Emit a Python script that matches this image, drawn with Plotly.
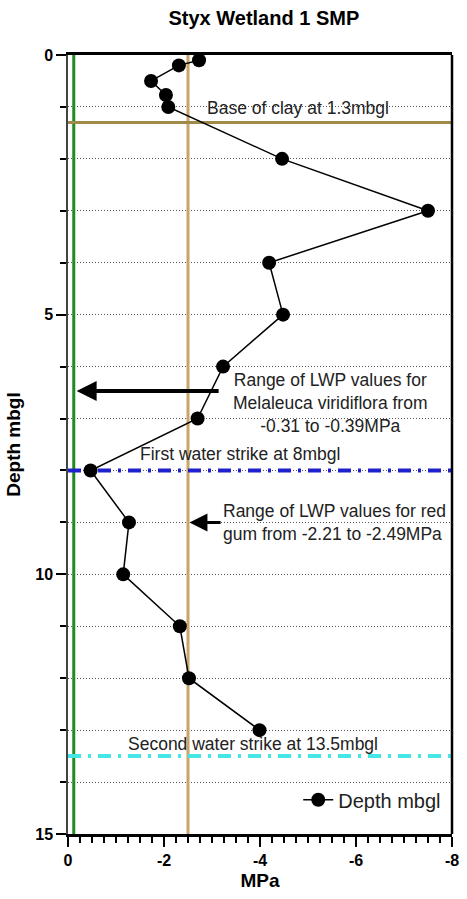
import plotly.graph_objects as go

# ---- data ----
mpa = [-2.73, -2.31, -1.73, -2.04, -2.09, -4.46, -7.5, -4.19, -4.48,
       -3.23, -2.70, -0.47, -1.27, -1.15, -2.33, -2.52, -3.99]
depth = [0.1, 0.2, 0.5, 0.77, 1.0, 2.0, 3.0, 4.0, 5.0,
         6.0, 7.0, 8.0, 9.0, 10.0, 11.0, 12.0, 13.0]

melaleuca_line_x = -0.12
redgum_line_x = -2.5
clay_depth = 1.3
first_strike_depth = 8.0
second_strike_depth = 13.5

x_range = [0, -8]
y_range = [15, 0]
x_ticks = [0, -2, -4, -6, -8]
x_ticklabels = ["0", "-2", "-4", "-6", "-8"]
y_ticks = [0, 5, 10, 15]
y_ticklabels = ["0", "5", "10", "15"]

FONT = "Liberation Sans, Arial, sans-serif"
TXT = "#222222"
DASHDOT = "13px,7px,3px,7px"

fig = go.Figure()

# vertical reference lines (full depth)
fig.add_trace(go.Scatter(x=[melaleuca_line_x, melaleuca_line_x], y=y_range,
                         mode="lines", line=dict(color="#1f8a24", width=3),
                         showlegend=False, hoverinfo="skip"))
fig.add_trace(go.Scatter(x=[redgum_line_x, redgum_line_x], y=y_range,
                         mode="lines", line=dict(color="#c9a46c", width=3),
                         showlegend=False, hoverinfo="skip"))
# horizontal lines
fig.add_trace(go.Scatter(x=x_range, y=[clay_depth, clay_depth],
                         mode="lines", line=dict(color="#a08a4a", width=3),
                         showlegend=False, hoverinfo="skip"))
fig.add_trace(go.Scatter(x=x_range, y=[first_strike_depth, first_strike_depth],
                         mode="lines", line=dict(color="#1f22cc", width=4, dash=DASHDOT),
                         showlegend=False, hoverinfo="skip"))
fig.add_trace(go.Scatter(x=x_range, y=[second_strike_depth, second_strike_depth],
                         mode="lines", line=dict(color="#45e6e6", width=4, dash=DASHDOT),
                         showlegend=False, hoverinfo="skip"))

# main series
fig.add_trace(go.Scatter(x=mpa, y=depth, mode="lines+markers", name="Depth mbgl",
                         line=dict(color="black", width=1.5),
                         marker=dict(color="black", size=14),
                         cliponaxis=False))

ann_font = dict(family=FONT, size=17.5, color=TXT)
annotations = [
    dict(x=-4.79, y=1.02, text="Base of clay at 1.3mbgl", showarrow=False, font=ann_font),
    dict(x=-5.46, y=6.71, text="Range of LWP values for<br>Melaleuca viridiflora from<br>-0.31 to -0.39MPa",
         showarrow=False, font=ann_font, align="center"),
    dict(x=-3.58, y=7.69, text="First water strike at 8mbgl", showarrow=False, font=ann_font),
    dict(x=-5.55, y=9.0, text="Range of LWP values for red<br>gum from -2.21 to -2.49MPa",
         showarrow=False, font=ann_font, align="left"),
    dict(x=-3.86, y=13.26, text="Second water strike at 13.5mbgl", showarrow=False, font=ann_font),
    # arrows
    dict(x=-0.18, y=6.47, ax=-3.17, ay=6.47, axref="x", ayref="y", xref="x", yref="y",
         text="", showarrow=True, arrowhead=2, arrowsize=1.0, arrowwidth=4, arrowcolor="black"),
    dict(x=-2.53, y=9.0, ax=-3.21, ay=9.0, axref="x", ayref="y", xref="x", yref="y",
         text="", showarrow=True, arrowhead=2, arrowsize=1.2, arrowwidth=3, arrowcolor="black"),
]

fig.update_layout(
    width=467, height=899,
    margin=dict(l=68, r=8, t=55, b=65),
    plot_bgcolor="white", paper_bgcolor="white",
    title=dict(text="<b>Styx Wetland 1 SMP</b>", x=0.565, xanchor="center", y=0.98, yanchor="middle",
               font=dict(family=FONT, size=20, color="black")),
    font=dict(family=FONT, color="black"),
    annotations=annotations,
    shapes=[dict(type="line", xref="paper", yref="paper", x0=1, x1=1, y0=0, y1=1,
                 line=dict(color="black", width=2.5))],
    legend=dict(x=0.985, xanchor="right", y=0.044, yanchor="middle",
                bgcolor="rgba(0,0,0,0)", font=dict(family=FONT, size=20, color=TXT),
                itemwidth=30),
    xaxis=dict(range=x_range, tickmode="array", tickvals=x_ticks, ticktext=x_ticklabels,
               ticks="outside", ticklen=10, tickwidth=1.5, tickcolor="black",
               tickfont=dict(family=FONT, size=16, color="black", weight="bold"),
               showline=True, linewidth=2.5, linecolor="black", mirror=True,
               showgrid=False, zeroline=False,
               minor=dict(dtick=0.25, tick0=0, ticks="outside", ticklen=6, tickwidth=1.5,
                          tickcolor="black", showgrid=False),
               title=dict(text="<b>MPa</b>", font=dict(family=FONT, size=19, color="black"), standoff=6)),
    yaxis=dict(range=y_range, tickmode="array", tickvals=y_ticks, ticktext=y_ticklabels,
               ticks="outside", ticklen=10, tickwidth=1.5, tickcolor="black",
               tickfont=dict(family=FONT, size=16, color="black", weight="bold"),
               showline=True, linewidth=1.5, linecolor="#444444", mirror=False,
               showgrid=True, gridcolor="#555555", gridwidth=1, griddash="1px,2px",
               zeroline=False,
               minor=dict(dtick=1, tick0=0, ticks="outside", ticklen=6, tickwidth=1.5,
                          tickcolor="black", showgrid=True, gridcolor="#555555",
                          gridwidth=1, griddash="1px,2px"),
               title=dict(text="<b>Depth mbgl</b>", font=dict(family=FONT, size=19, color="black"), standoff=10)),
)

fig.write_html("out.html")
